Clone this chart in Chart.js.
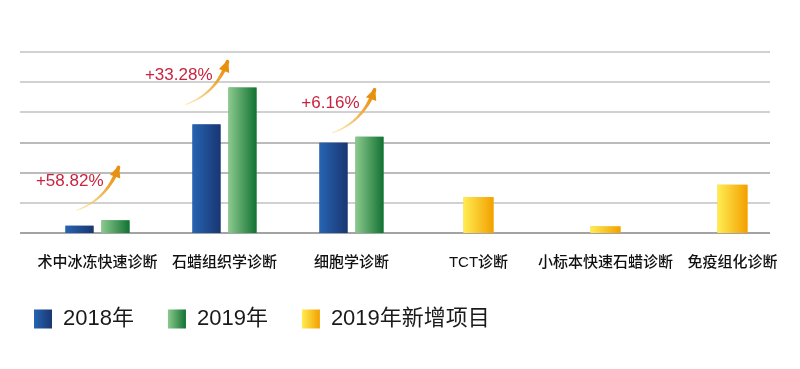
<!DOCTYPE html>
<html><head><meta charset="utf-8">
<script src="https://cdn.jsdelivr.net/npm/chart.js@4.4.1/dist/chart.umd.min.js"></script>
<style>html,body{margin:0;padding:0;background:#fff;}#wrap{width:800px;height:369px;}</style>
</head><body><div id="wrap"><canvas id="c" width="800" height="369"></canvas></div>
<script>
// ---- data ----
const categories = ['术中冰冻快速诊断','石蜡组织学诊断','细胞学诊断','TCT诊断','小标本快速石蜡诊断','免疫组化诊断'];
const seriesNames = ['2018年','2019年','2019年新增项目'];
const values2018 = [0.24, 3.60, 2.99, null, null, null];
const values2019 = [0.42, 4.82, 3.19, null, null, null];
const valuesNew  = [null, null, null, 1.19, 0.22, 1.60];
const growthLabels = ['+58.82%','+33.28%','+6.16%'];
const yTicks = [0,1,2,3,4,5,6];

// ---- styles ----
const FONT = '"Liberation Sans","Noto Sans CJK SC",Arial,sans-serif';
const gradColors = [['#2564b2','#1a3672'],['#8cc98e','#117232'],['#ffec52','#f3a000']];
const solidColors = ['#1f4c92','#3f9a58','#f9c72a'];
const arrowEnd = [[3,-53],[-15,-26],[5,-47]]; // offset from 2019 bar top-centre

function hGrad(ctx, x0, x1, cols){
  const g = ctx.createLinearGradient(x0,0,x1,0);
  g.addColorStop(0, cols[0]); g.addColorStop(1, cols[1]);
  return g;
}
function drawArrow(ctx, sx, sy, ex, ey){
  const cx = sx + 0.72*(ex-sx), cy = sy + 0.25*(ey-sy);
  const pt = t => [(1-t)*(1-t)*sx + 2*(1-t)*t*cx + t*t*ex, (1-t)*(1-t)*sy + 2*(1-t)*t*cy + t*t*ey];
  const N = 30;
  ctx.lineCap = 'round';
  for (let k=0;k<N;k++){
    const t0=k/N, t1=(k+1)/N;
    const p0=pt(t0), p1=pt(t1);
    const r = Math.round(250 + (232-250)*t1), g = Math.round(222 + (140-222)*t1), b = Math.round(140 + (14-140)*t1);
    const a = 0.45 + 0.55*t1;
    ctx.strokeStyle = `rgba(${r},${g},${b},${a})`;
    ctx.lineWidth = 1.0 + 2.6*t1;
    ctx.beginPath(); ctx.moveTo(p0[0],p0[1]); ctx.lineTo(p1[0],p1[1]); ctx.stroke();
  }
  const ang = Math.atan2(ey-cy, ex-cx);
  const hl = 10, hw = 5.5;
  const bx = ex - hl*Math.cos(ang), by = ey - hl*Math.sin(ang);
  ctx.fillStyle = '#e8900f';
  ctx.beginPath();
  ctx.moveTo(ex+2*Math.cos(ang), ey+2*Math.sin(ang));
  ctx.lineTo(bx - hw*Math.sin(ang), by + hw*Math.cos(ang));
  ctx.lineTo(bx + hw*Math.sin(ang), by - hw*Math.cos(ang));
  ctx.closePath(); ctx.fill();
}

const deco = {
  id: 'deco',
  beforeDatasetsDraw(chart){
    const {ctx, chartArea, scales:{y}} = chart;
    const x0 = chartArea.left - 14, x1 = chartArea.right - 26;
    ctx.save();
    yTicks.forEach(v => {
      const py = Math.round(y.getPixelForValue(v));
      ctx.strokeStyle = v === 0 ? '#858585' : (v === 3 || v === 2 ? '#a4a4a4' : '#c2c2c2');
      ctx.lineWidth = 1.5;
      ctx.beginPath(); ctx.moveTo(x0, py); ctx.lineTo(x1, py); ctx.stroke();
    });
    ctx.restore();
  },
  afterDatasetsDraw(chart){
    const ctx = chart.ctx;
    ctx.save();
    chart.data.datasets.forEach((ds, di) => {
      const meta = chart.getDatasetMeta(di);
      meta.data.forEach((el, i) => {
        if (ds.data[i] == null) return;
        const p = el.getProps(['x','y','base','width'], true);
        const l = p.x - p.width/2;
        ctx.fillStyle = hGrad(ctx, l, l + p.width, gradColors[di]);
        ctx.fillRect(l, p.y, p.width, p.base - p.y);
      });
    });
    const gMeta = chart.getDatasetMeta(1);
    growthLabels.forEach((txt, i) => {
      const el = gMeta.data[i];
      const p = el.getProps(['x','y'], true);
      const ex = p.x + arrowEnd[i][0], ey = p.y + arrowEnd[i][1];
      drawArrow(ctx, ex - 42, ey + 43, ex, ey);
      ctx.font = '17px ' + FONT;
      ctx.fillStyle = '#c8243f';
      ctx.textAlign = 'right'; ctx.textBaseline = 'middle';
      ctx.fillText(txt, ex - 15, ey + 14);
    });
    ctx.restore();
  },
  afterDraw(chart){
    const ctx = chart.ctx, lg = chart.legend;
    if (!lg || !lg.legendHitBoxes) return;
    ctx.save();
    lg.legendHitBoxes.forEach((hb, i) => {
      const cy = hb.top + hb.height/2;
      ctx.fillStyle = hGrad(ctx, hb.left, hb.left + 18, gradColors[i]);
      ctx.fillRect(hb.left, cy - 9.5, 18, 19);
    });
    ctx.restore();
  }
};

new Chart(document.getElementById('c'), {
  type: 'bar',
  data: {
    labels: categories,
    datasets: [
      {label: seriesNames[0], data: values2018, backgroundColor: solidColors[0]},
      {label: seriesNames[1], data: values2019, backgroundColor: solidColors[1]},
      {label: seriesNames[2], data: valuesNew,  backgroundColor: solidColors[2]}
    ]
  },
  options: {
    responsive: false,
    animation: false,
    devicePixelRatio: 1,
    layout: {padding: {top: 52, right: 4, bottom: 29, left: 0}},
    datasets: {bar: {skipNull: true, categoryPercentage: 0.567, barPercentage: 0.778, maxBarThickness: 30, borderWidth: 0}},
    scales: {
      x: {
        grid: {display: false, drawTicks: false}, border: {display: false},
        ticks: {color: '#111', font: {size: 15, family: FONT, weight: '500'}, padding: 21, maxRotation: 0, autoSkip: false},
        afterFit: s => { s.height = 41; }
      },
      y: {
        min: 0, max: 6,
        ticks: {display: false, stepSize: 1},
        grid: {display: false, drawTicks: false}, border: {display: false},
        afterFit: s => { s.width = 34; }
      }
    },
    plugins: {
      tooltip: {enabled: false},
      legend: {
        position: 'bottom', align: 'start',
        labels: {
          boxWidth: 18, boxHeight: 18, padding: 34, color: '#1a1a1a',
          font: {size: 22, family: FONT},
          generateLabels: () => seriesNames.map((t, i) => ({
            text: t, fillStyle: 'rgba(0,0,0,0)', strokeStyle: 'rgba(0,0,0,0)', lineWidth: 0,
            datasetIndex: i, hidden: false, fontColor: '#1a1a1a'
          }))
        }
      }
    }
  },
  plugins: [deco]
});
</script></body></html>
